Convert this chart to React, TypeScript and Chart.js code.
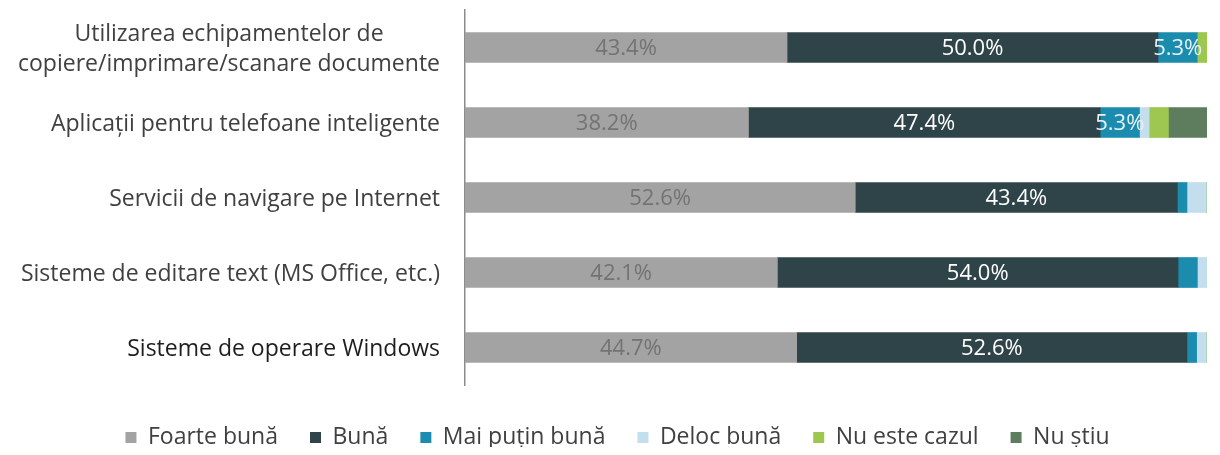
import React, { useEffect, useRef } from "react";
import { Chart, registerables } from "chart.js";

Chart.register(...registerables);

const categories: string[][] = [
  ["Utilizarea echipamentelor de", "copiere/imprimare/scanare documente"],
  ["Aplicații pentru telefoane inteligente"],
  ["Servicii de navigare pe Internet"],
  ["Sisteme de editare text (MS Office, etc.)"],
  ["Sisteme de operare Windows"],
];

const seriesNames = ["Foarte bună", "Bună", "Mai puțin bună", "Deloc bună", "Nu este cazul", "Nu știu"];

const foarteBuna = [43.4, 38.2, 52.6, 42.1, 44.7];
const buna = [50.0, 47.4, 43.4, 54.0, 52.6];
const maiPutinBuna = [5.3, 5.3, 1.3, 2.6, 1.3];
const delocBuna = [0, 1.3, 2.6, 1.3, 1.3];
const nuEsteCazul = [1.3, 2.6, 0, 0, 0];
const nuStiu = [0, 5.3, 0, 0, 0];

const seriesValues = [foarteBuna, buna, maiPutinBuna, delocBuna, nuEsteCazul, nuStiu];
const seriesColors = ["#a3a3a3", "#2f4449", "#1b8cae", "#c3deec", "#9dc74f", "#5d7d5e"];
const valueLabelColors = ["#737373", "#ffffff", "#e8f2f6", null, null, null];

const FONT = '"Open Sans", "DejaVu Sans", sans-serif';

const labelPlugin = {
  id: "customLabels",
  afterDraw(chart: any) {
    const ctx = chart.ctx;
    const yScale = chart.scales.y;
    ctx.save();
    ctx.font = `23px ${FONT}`;
    ctx.textBaseline = "middle";
    ctx.textAlign = "center";
    const rightX = yScale.right - 25;
    categories.forEach((lines, i) => {
      const y = yScale.getPixelForValue(i);
      const maxW = Math.max(...lines.map((l) => ctx.measureText(l).width));
      const lh = 30;
      const startY = y - ((lines.length - 1) * lh) / 2 + 2;
      ctx.fillStyle = i === categories.length - 1 ? "#1e1e1e" : "#404040";
      lines.forEach((line, j) => {
        ctx.fillText(line, rightX - maxW / 2, startY + j * lh);
      });
    });
    ctx.font = `22px ${FONT}`;
    chart.data.datasets.forEach((ds: any, di: number) => {
      const color = valueLabelColors[di];
      if (!color) return;
      const meta = chart.getDatasetMeta(di);
      meta.data.forEach((el: any, i: number) => {
        const v = ds.data[i];
        if (v < 5) return;
        const cx = (el.x + el.base) / 2;
        ctx.fillStyle = color;
        ctx.fillText(`${v.toFixed(1)}%`, cx, el.y + 1);
      });
    });
    ctx.restore();
  },
};

export default function App() {
  const ref = useRef<HTMLCanvasElement | null>(null);
  useEffect(() => {
    if (!ref.current) return;
    const chart = new Chart(ref.current, {
      type: "bar",
      data: {
        labels: categories.map((c) => c.join(" ")),
        datasets: seriesNames.map((name, i) => ({
          label: name,
          data: seriesValues[i],
          backgroundColor: seriesColors[i],
          borderWidth: 0,
          barThickness: 30,
        })),
      },
      options: {
        indexAxis: "y",
        animation: false,
        responsive: true,
        maintainAspectRatio: false,
        layout: { padding: { top: 2, right: 5, bottom: -12, left: 20 } },
        scales: {
          x: {
            stacked: true,
            display: true,
            min: 0,
            max: 100,
            grid: { display: false },
            border: { display: false },
            ticks: { display: false },
            afterFit: (scale: any) => {
              scale.height = 9;
            },
          },
          y: {
            stacked: true,
            grid: { display: false },
            border: { display: true, color: "#8c8c8c", width: 1.5 },
            ticks: { display: false },
            afterFit: (scale: any) => {
              scale.width = 437;
            },
          },
        },
        plugins: {
          tooltip: { enabled: false },
          legend: {
            position: "bottom",
            labels: {
              boxWidth: 11,
              boxHeight: 11,
              padding: 32,
              color: "#404040",
              font: { family: FONT, size: 23 },
            },
          },
        },
      },
      plugins: [labelPlugin],
    });
    return () => chart.destroy();
  }, []);
  return (
    <div style={{ position: "relative", width: "1204px", height: "439px" }}>
      <canvas ref={ref} />
    </div>
  );
}
